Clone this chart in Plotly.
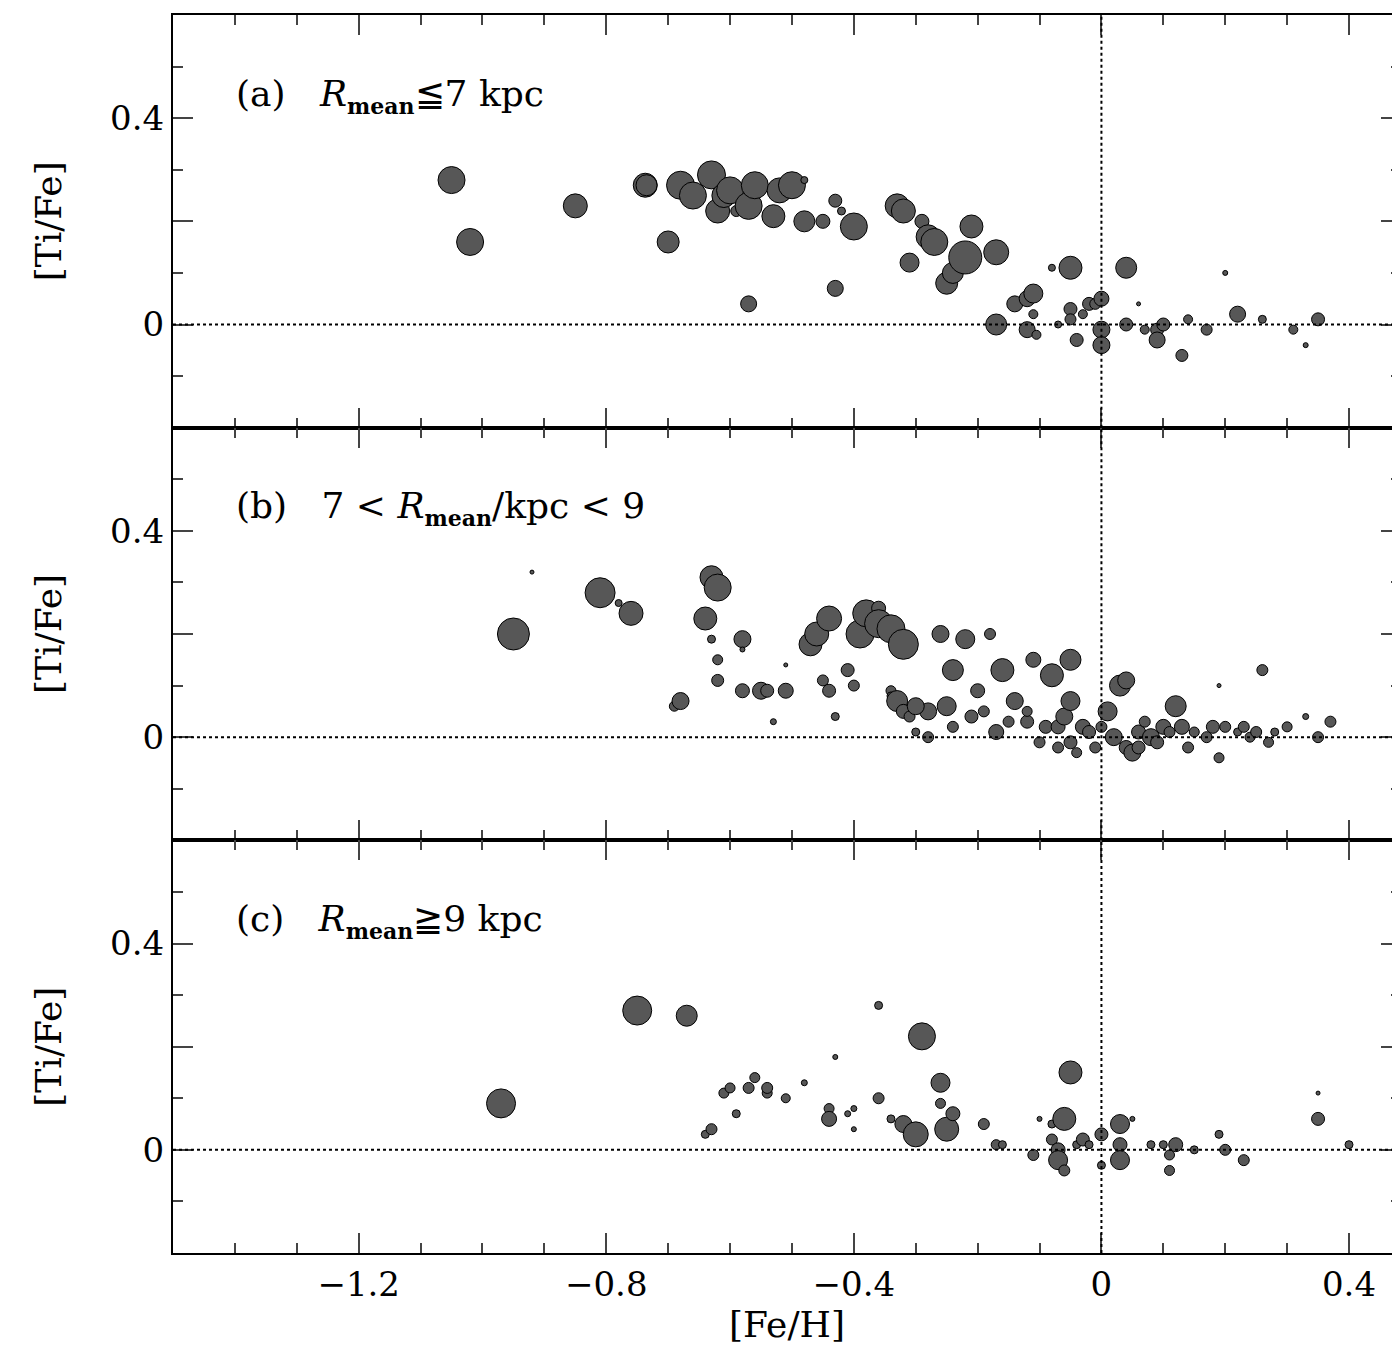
import plotly.graph_objects as go
from plotly.subplots import make_subplots

# panel (a): R_mean <= 7 kpc  -> [Fe/H], [Ti/Fe], symbol size
a_feh = [-1.05, -1.02, -0.85, -0.737, -0.735, -0.70, -0.68, -0.66, -0.63, -0.62, -0.61, -0.60, -0.59, -0.57, -0.57,
         -0.56, -0.53, -0.52, -0.50, -0.48, -0.48, -0.45, -0.43, -0.42, -0.40, -0.43, -0.33, -0.32, -0.31, -0.29,
         -0.28, -0.27, -0.25, -0.24, -0.22, -0.21, -0.17, -0.17, -0.14, -0.12, -0.11, -0.11, -0.12, -0.105, -0.08,
         -0.07, -0.05, -0.05, -0.05, -0.04, -0.03, -0.02, -0.01, 0.00, 0.00, 0.00, 0.04, 0.04, 0.06, 0.07,
         0.09, 0.09, 0.10, 0.13, 0.14, 0.17, 0.20, 0.22, 0.26, 0.31, 0.33, 0.35]
a_tife = [0.28, 0.16, 0.23, 0.27, 0.27, 0.16, 0.27, 0.25, 0.29, 0.22, 0.25, 0.26, 0.22, 0.23, 0.04,
          0.27, 0.21, 0.26, 0.27, 0.28, 0.20, 0.20, 0.24, 0.22, 0.19, 0.07, 0.23, 0.22, 0.12, 0.20,
          0.17, 0.16, 0.08, 0.10, 0.13, 0.19, 0.14, 0.00, 0.04, 0.05, 0.06, 0.02, -0.01, -0.02, 0.11,
          0.00, 0.11, 0.03, 0.01, -0.03, 0.02, 0.04, 0.04, 0.05, -0.01, -0.04, 0.11, 0.00, 0.04, -0.01,
          -0.01, -0.03, 0.00, -0.06, 0.01, -0.01, 0.10, 0.02, 0.01, -0.01, -0.04, 0.01]
a_size = [27, 27, 24, 24, 21, 22, 28, 27, 28, 24, 24, 27, 11, 27, 16,
          27, 23, 25, 27, 7, 21, 14, 13, 8, 27, 16, 24, 24, 19, 14,
          24, 27, 22, 21, 33, 23, 25, 21, 16, 16, 19, 9, 16, 9, 7,
          7, 23, 13, 11, 13, 9, 13, 11, 15, 17, 17, 21, 13, 4, 9,
          13, 16, 13, 12, 9, 11, 5, 16, 8, 9, 5, 13]

# panel (b): 7 < R_mean/kpc < 9
b_feh = [-0.92, -0.95, -0.81, -0.78, -0.76, -0.69, -0.68, -0.64, -0.63, -0.62, -0.63, -0.62, -0.62, -0.58, -0.58,
         -0.58, -0.55, -0.54, -0.51, -0.53, -0.51, -0.47, -0.46, -0.44, -0.45, -0.44, -0.43, -0.41, -0.39, -0.38,
         -0.36, -0.36, -0.34, -0.32, -0.40, -0.34, -0.34, -0.33, -0.32, -0.31, -0.30, -0.28, -0.28, -0.26, -0.25,
         -0.24, -0.24, -0.22, -0.21, -0.20, -0.19, -0.18, -0.17, -0.16, -0.15, -0.14, -0.12, -0.11, -0.10, -0.09,
         -0.08, -0.07, -0.07, -0.06, -0.05, -0.05, -0.04, -0.03, -0.02, -0.01, 0.00, 0.01, 0.02, 0.03, 0.04,
         0.04, 0.05, 0.06, 0.07, 0.08, 0.09, 0.10, 0.11, 0.12, 0.13, 0.14, 0.15, 0.17, 0.18, 0.19,
         0.19, 0.20, 0.22, 0.23, 0.24, 0.25, 0.26, 0.27, 0.28, 0.30, 0.33, 0.35, 0.37, -0.05, 0.06,
         -0.30, -0.12]
b_tife = [0.32, 0.20, 0.28, 0.26, 0.24, 0.06, 0.07, 0.23, 0.31, 0.29, 0.19, 0.15, 0.11, 0.19, 0.17,
          0.09, 0.09, 0.09, 0.09, 0.03, 0.14, 0.18, 0.20, 0.23, 0.11, 0.09, 0.04, 0.13, 0.20, 0.24,
          0.25, 0.22, 0.21, 0.18, 0.10, 0.09, 0.08, 0.07, 0.05, 0.04, 0.01, 0.05, 0.00, 0.20, 0.06,
          0.13, 0.02, 0.19, 0.04, 0.09, 0.05, 0.20, 0.01, 0.13, 0.03, 0.07, 0.03, 0.15, -0.01, 0.02,
          0.12, 0.02, -0.02, 0.04, 0.07, 0.15, -0.03, 0.02, 0.01, -0.02, 0.02, 0.05, 0.00, 0.10, 0.11,
          -0.02, -0.03, 0.01, 0.03, 0.00, -0.01, 0.02, 0.01, 0.06, 0.02, -0.02, 0.01, 0.00, 0.02, 0.10,
          -0.04, 0.02, 0.01, 0.02, 0.00, 0.01, 0.13, -0.01, 0.01, 0.02, 0.04, 0.00, 0.03, -0.01, -0.02,
          0.06, 0.05]
b_size = [4, 32, 30, 7, 24, 10, 17, 23, 23, 27, 8, 10, 12, 17, 5,
          14, 17, 13, 15, 6, 4, 23, 24, 25, 11, 13, 8, 13, 28, 27,
          14, 28, 28, 30, 11, 10, 8, 21, 14, 11, 8, 17, 11, 17, 19,
          21, 11, 19, 13, 14, 11, 11, 15, 23, 11, 17, 13, 15, 11, 13,
          23, 14, 11, 17, 19, 21, 10, 15, 13, 11, 11, 19, 17, 21, 17,
          14, 17, 14, 11, 17, 13, 15, 11, 21, 15, 11, 10, 11, 13, 4,
          10, 11, 8, 11, 10, 11, 11, 10, 8, 10, 6, 11, 11, 13, 13,
          17, 10]

# panel (c): R_mean >= 9 kpc
c_feh = [-0.97, -0.75, -0.67, -0.64, -0.63, -0.61, -0.60, -0.59, -0.57, -0.56, -0.54, -0.54, -0.51, -0.48, -0.44,
         -0.44, -0.43, -0.41, -0.40, -0.40, -0.36, -0.36, -0.34, -0.32, -0.30, -0.29, -0.26, -0.25, -0.24, -0.26,
         -0.19, -0.17, -0.16, -0.11, -0.10, -0.08, -0.08, -0.07, -0.06, -0.07, -0.06, -0.05, -0.04, -0.03, -0.02,
         0.00, 0.00, 0.03, 0.03, 0.03, 0.05, 0.08, 0.10, 0.11, 0.11, 0.12, 0.15, 0.19, 0.20, 0.23,
         0.35, 0.35, 0.40]
c_tife = [0.09, 0.27, 0.26, 0.03, 0.04, 0.11, 0.12, 0.07, 0.12, 0.14, 0.11, 0.12, 0.10, 0.13, 0.08,
          0.06, 0.18, 0.07, 0.08, 0.04, 0.28, 0.10, 0.06, 0.05, 0.03, 0.22, 0.13, 0.04, 0.07, 0.09,
          0.05, 0.01, 0.01, -0.01, 0.06, 0.05, 0.02, 0.00, 0.06, -0.02, -0.04, 0.15, 0.01, 0.02, 0.01,
          0.03, -0.03, 0.05, 0.01, -0.02, 0.06, 0.01, 0.01, -0.01, -0.04, 0.01, 0.00, 0.03, 0.00, -0.02,
          0.11, 0.06, 0.01]
c_size = [29, 29, 21, 8, 11, 10, 10, 8, 11, 10, 10, 11, 9, 6, 10,
          15, 5, 6, 6, 5, 8, 11, 8, 17, 25, 27, 19, 24, 14, 10,
          11, 10, 8, 11, 5, 8, 11, 14, 23, 19, 11, 23, 8, 13, 8,
          13, 8, 19, 14, 19, 5, 8, 8, 10, 10, 14, 8, 8, 11, 11,
          4, 13, 8]

panels = [(a_feh, a_tife, a_size), (b_feh, b_tife, b_size), (c_feh, c_tife, c_size)]
labels = ["(a)   <i>R</i><sub><span style='font-size:22px'><b>mean</b></span></sub>≦7 kpc",
          "(b)   7 &lt; <i>R</i><sub><span style='font-size:22px'><b>mean</b></span></sub>/kpc &lt; 9",
          "(c)   <i>R</i><sub><span style='font-size:22px'><b>mean</b></span></sub>≧9 kpc"]

FONT = "DejaVu Serif"

fig = make_subplots(rows=3, cols=1, shared_xaxes=True, vertical_spacing=0)

for i, (x, y, s) in enumerate(panels, start=1):
    fig.add_trace(go.Scatter(
        x=x, y=y, mode="markers",
        marker=dict(size=s, color="#575757", opacity=1,
                    line=dict(color="black", width=1)),
    ), row=i, col=1)
    fig.add_hline(y=0, line=dict(color="black", width=2, dash="dot"), row=i, col=1)
    fig.add_vline(x=0, line=dict(color="black", width=2, dash="dot"), row=i, col=1)
    fig.update_yaxes(
        range=[-0.2, 0.6], tickvals=[-0.2, 0, 0.2, 0.4, 0.6], ticktext=["", "0", "", "0.4", ""],
        ticks="inside", ticklen=20, tickwidth=1.5, mirror="allticks",
        minor=dict(dtick=0.1, ticks="inside", ticklen=10, tickwidth=1.5),
        showline=True, linecolor="black", linewidth=2, showgrid=False, zeroline=False,
        title=dict(text="[Ti/Fe]", font=dict(size=36, family=FONT), standoff=38),
        tickfont=dict(size=34, family=FONT),
        row=i, col=1)
    fig.update_xaxes(
        range=[-1.5, 0.484], dtick=0.4, tick0=0,
        ticks="inside", ticklen=20, tickwidth=1.5, mirror="allticks",
        minor=dict(dtick=0.1, ticks="inside", ticklen=10, tickwidth=1.5),
        showline=True, linecolor="black", linewidth=2, showgrid=False, zeroline=False,
        tickfont=dict(size=34, family=FONT),
        row=i, col=1)

fig.update_xaxes(title=dict(text="[Fe/H]", font=dict(size=36, family=FONT), standoff=8), row=3, col=1)

for i, lab in enumerate(labels):
    top = 1 - i / 3
    fig.add_annotation(x=0.05, y=top - 0.045, xref="paper", yref="paper", text=lab,
                       showarrow=False, xanchor="left", yanchor="top",
                       font=dict(size=36, family=FONT, color="black"))

fig.update_layout(
    width=1400, height=1368,
    margin=dict(l=165, r=5, t=7, b=123),
    plot_bgcolor="white", paper_bgcolor="white",
    showlegend=False,
    font=dict(family=FONT, color="black"),
)

fig.write_html("out.html")
